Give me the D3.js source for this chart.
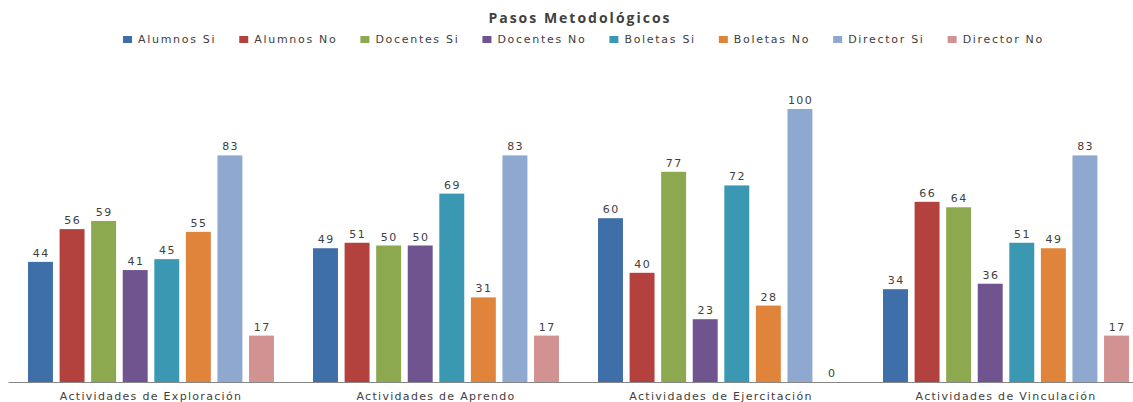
<!DOCTYPE html>
<html>
<head>
<meta charset="utf-8">
<script src="https://cdn.jsdelivr.net/npm/d3@7/dist/d3.min.js"></script>
<style>
  body { margin: 0; background: #fff; }
  text { font-family: "DejaVu Sans", sans-serif; fill: #404040; }
</style>
</head>
<body>
<div id="chart"></div>
<script>
var categories = ["Actividades de Exploración", "Actividades de Aprendo", "Actividades de Ejercitación", "Actividades de Vinculación"]
var seriesNames = ["Alumnos Si", "Alumnos No", "Docentes Si", "Docentes No", "Boletas Si", "Boletas No", "Director Si", "Director No"]
var seriesColors = ["#3f6fa8", "#b3423f", "#8ca94f", "#70548f", "#3a98b2", "#e0843c", "#8fa8cf", "#d39292"]

// one array per series, in category order
var alumnosSi = [44, 49, 60, 34]
var alumnosNo = [56, 51, 40, 66]
var docentesSi = [59, 50, 77, 64]
var docentesNo = [41, 50, 23, 36]
var boletasSi = [45, 69, 72, 51]
var boletasNo = [55, 31, 28, 49]
var directorSi = [83, 83, 100, 83]
var directorNo = [17, 17, 0, 17]

var seriesValues = [alumnosSi, alumnosNo, docentesSi, docentesNo, boletasSi, boletasNo, directorSi, directorNo]

var width = 1133, height = 402

var svg = d3.select("#chart").append("svg")
    .attr("width", width)
    .attr("height", height)

var x0 = d3.scaleBand()
    .domain(categories)
    .range([8.5, 1148.5])
    .paddingInner(0.137)
    .paddingOuter(0.0685)

var x1 = d3.scaleBand()
    .domain(seriesNames)
    .range([0, x0.bandwidth()])
    .paddingInner(0.21)
    .paddingOuter(0)

var y = d3.scaleLinear().domain([0, 100]).range([382, 109])

var color = d3.scaleOrdinal().domain(seriesNames).range(seriesColors)

var rows = []
categories.forEach(function(c, i) {
  seriesNames.forEach(function(s, j) {
    rows.push({cat: c, series: s, value: seriesValues[j][i]})
  })
})

svg.selectAll("rect.bar")
    .data(rows)
  .enter().append("rect")
    .attr("class", "bar")
    .attr("x", function(d) { return x0(d.cat) + x1(d.series) })
    .attr("y", function(d) { return y(d.value) })
    .attr("width", x1.bandwidth())
    .attr("height", function(d) { return y(0) - y(d.value) })
    .attr("fill", function(d) { return color(d.series) })

svg.selectAll("text.val")
    .data(rows)
  .enter().append("text")
    .attr("class", "val")
    .attr("x", function(d) { return x0(d.cat) + x1(d.series) + x1.bandwidth() / 2 + 0.7 })
    .attr("y", function(d) { return y(d.value) - 5 })
    .attr("text-anchor", "middle")
    .style("font-size", "11px")
    .style("letter-spacing", "1.5px")
    .text(function(d) { return d.value })

// x axis (line only, no ticks)
var xAxis = svg.append("g")
    .attr("transform", "translate(0," + y(0) + ")")
    .call(d3.axisBottom(x0).tickSize(0).tickPadding(10))
xAxis.select(".domain").attr("stroke", "#868686").attr("d", "M8.5,0.5H1148.5")
xAxis.selectAll("text")
    .style("font-family", "DejaVu Sans, sans-serif")
    .style("font-size", "11px")
    .style("letter-spacing", "1.3px")
    .attr("fill", "#262626")

// title
svg.append("text")
    .attr("x", 580)
    .attr("y", 23)
    .attr("text-anchor", "middle")
    .style("font-family", "Open Sans, sans-serif")
    .style("font-weight", "bold")
    .style("font-size", "14px")
    .style("letter-spacing", "2px")
    .attr("fill", "#262626")
    .text("Pasos Metodológicos")

// legend
var legend = svg.append("g")
var lx = 123
seriesNames.forEach(function(s) {
  var item = legend.append("g").attr("transform", "translate(" + lx + ",0)")
  item.append("rect")
      .attr("x", 0).attr("y", 36)
      .attr("width", 9).attr("height", 7)
      .attr("fill", color(s))
  var t = item.append("text")
      .attr("x", 15).attr("y", 43)
      .style("font-size", "11px")
      .style("letter-spacing", "1.7px")
      .attr("fill", "#262626")
      .text(s)
  lx += 15 + t.node().getComputedTextLength() + 23
})
</script>
</body>
</html>
